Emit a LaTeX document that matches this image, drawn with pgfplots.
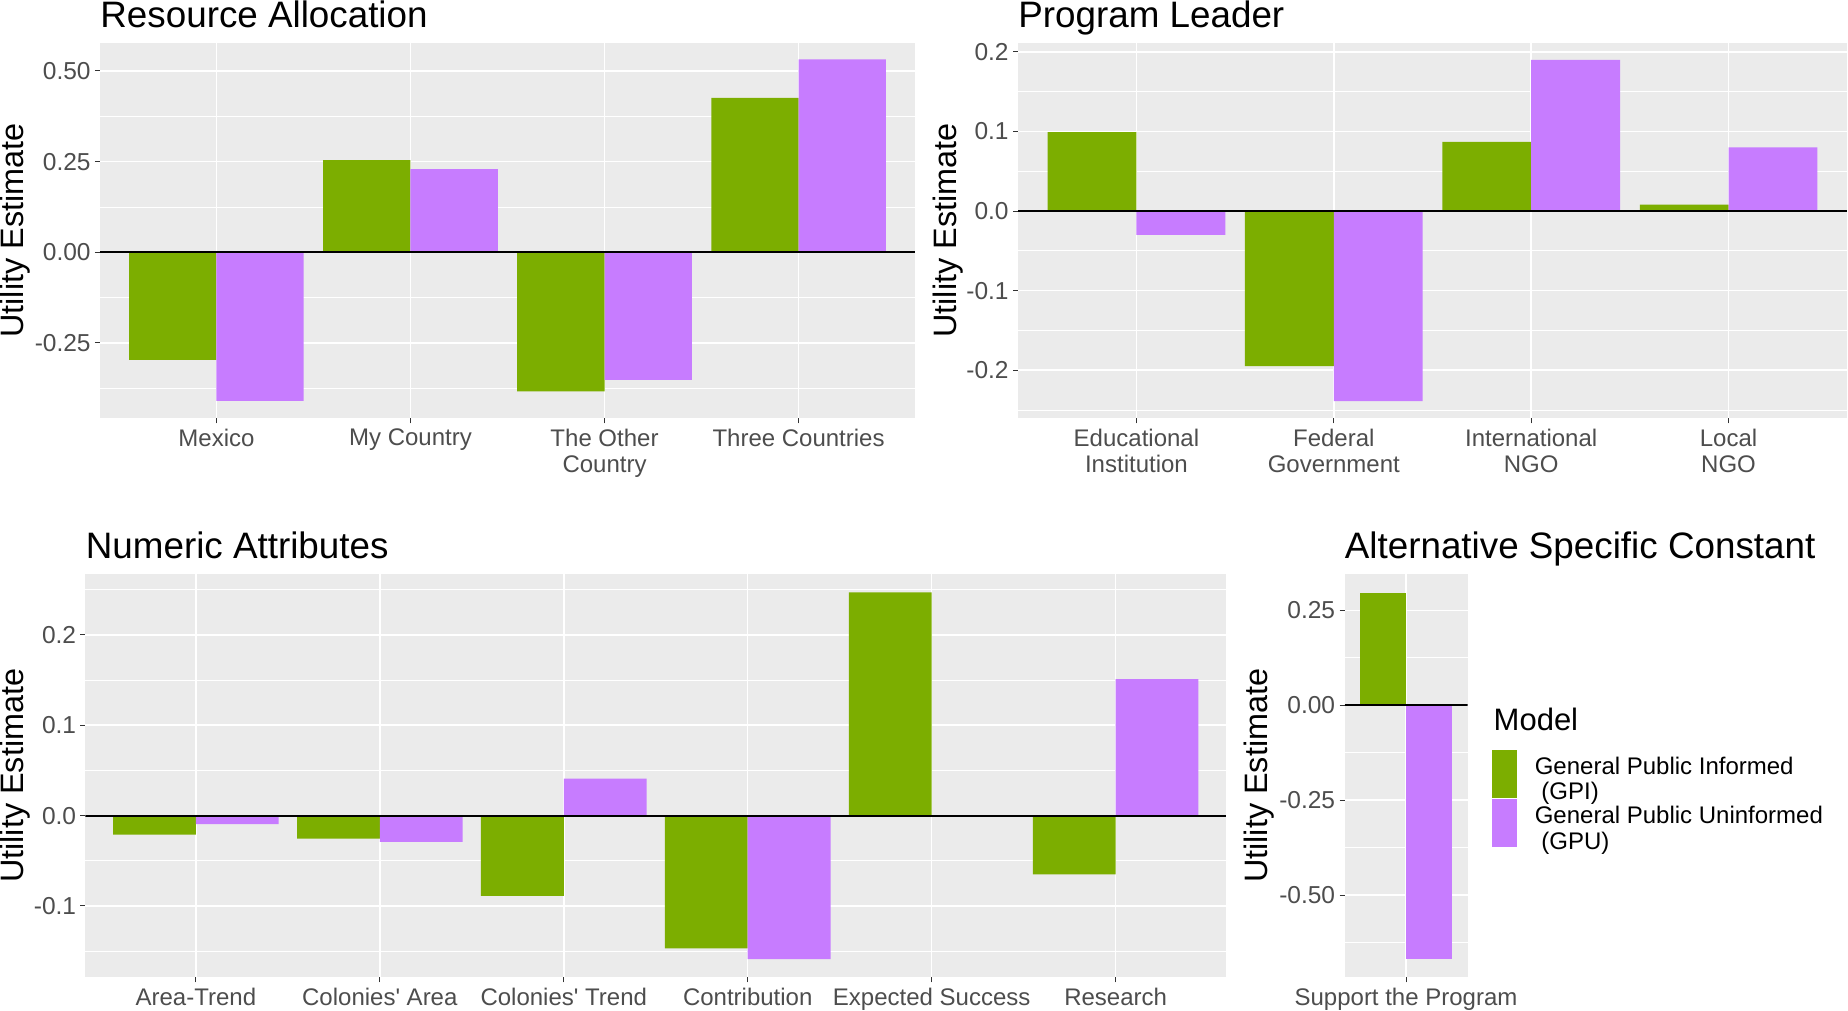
\documentclass[border=0pt]{standalone}
\usepackage{pgfplots}
\pgfplotsset{compat=1.18}
\usepackage{fontspec}
\setmainfont{Liberation Sans}
\definecolor{gpi}{HTML}{7CAE00}
\definecolor{gpu}{HTML}{C77CFF}
\definecolor{panelbg}{HTML}{EBEBEB}
\definecolor{ticklab}{HTML}{4D4D4D}
\definecolor{tickcol}{HTML}{333333}
\pgfplotsset{
  panel/.style={
    scale only axis, anchor=north west,
    axis background/.style={fill=panelbg},
    axis line style={draw=none},
    tick align=outside,
    xtick pos=left, ytick pos=left,
    major tick length=2.5pt,
    minor tick length=0pt,
    tick style={color=tickcol, line width=0.5pt},
    xmajorgrids=true, ymajorgrids=true, yminorgrids=true,
    major grid style={white, line width=0.75pt},
    minor grid style={white, line width=0.4pt},
    yticklabel style={font=\fontsize{12.25}{14}\selectfont, color=ticklab, anchor=east, inner sep=0pt, xshift=-2pt},
    xticklabel style={font=\fontsize{12}{13.2}\selectfont, color=ticklab, anchor=north, inner sep=0pt, align=center, yshift=-2.6pt},
    every axis title shift=0pt,
    title style={font=\fontsize{18.4}{22}\selectfont, at={(axis description cs:0,1)}, anchor=base west, inner sep=0pt, yshift=7.8pt},
    ylabel={Utility Estimate},
    ylabel style={font=\fontsize{16.2}{19}\selectfont, anchor=center, inner sep=0pt},
  },
  gpibar/.style={ybar, bar width=0.45, bar shift=-0.225, fill=gpi, draw=none},
  gpubar/.style={ybar, bar width=0.45, bar shift=0.225, fill=gpu, draw=none},
  myleg/.style={legend image code/.code={\fill[##1] (0pt,-12pt) rectangle (12.5pt,12pt);}},
}
\begin{document}
\begin{tikzpicture}
\path[use as bounding box, fill=white] (0,0) rectangle (924pt,-505.5pt);

% Resource Allocation
\begin{axis}[panel, at={(50pt,-21.35pt)}, width=407.5pt, height=187.8pt,
  title={Resource Allocation},
  ylabel style={at={([xshift=-42.5pt]axis description cs:0,0.5)}},
  xmin=-0.6, xmax=3.6, ymin=-0.458, ymax=0.578,
  xtick={0,1,2,3}, xticklabels={Mexico, My Country, {The Other\\Country}, Three Countries},
  ytick={-0.25,0,0.25,0.5}, yticklabels={-0.25,0.00,0.25,0.50},
  minor ytick={-0.375,-0.125,0.125,0.375}]
\addplot[gpibar] coordinates {(0,-0.297) (1,0.254) (2,-0.384) (3,0.426)};
\addplot[gpubar] coordinates {(0,-0.410) (1,0.229) (2,-0.352) (3,0.532)};
\addplot[black, line width=1pt] coordinates {(-0.6,0) (3.6,0)};
\end{axis}

% Program Leader
\begin{axis}[panel, at={(509pt,-21.35pt)}, width=414.5pt, height=187.8pt,
  title={Program Leader},
  ylabel style={at={([xshift=-35pt]axis description cs:0,0.5)}},
  xmin=-0.6, xmax=3.6, ymin=-0.2605, ymax=0.2115,
  xtick={0,1,2,3}, xticklabels={{Educational\\Institution}, {Federal\\Government}, {International\\NGO}, {Local\\NGO}},
  ytick={-0.2,-0.1,0,0.1,0.2}, yticklabels={-0.2,-0.1,0.0,0.1,0.2},
  minor ytick={-0.25,-0.15,-0.05,0.05,0.15}]
\addplot[gpibar] coordinates {(0,0.099) (1,-0.195) (2,0.087) (3,0.008)};
\addplot[gpubar] coordinates {(0,-0.030) (1,-0.239) (2,0.190) (3,0.080)};
\addplot[black, line width=1pt] coordinates {(-0.6,0) (3.6,0)};
\end{axis}

% Numeric Attributes
\begin{axis}[panel, at={(42.75pt,-287.15pt)}, width=570.25pt, height=201.5pt,
  title={Numeric Attributes},
  ylabel style={at={([xshift=-35pt]axis description cs:0,0.5)}},
  xmin=-0.6, xmax=5.6, ymin=-0.179, ymax=0.267,
  xtick={0,1,2,3,4,5}, xticklabels={Area-Trend, Colonies\textquotesingle\ Area, Colonies\textquotesingle\ Trend, Contribution, Expected Success, Research},
  ytick={-0.1,0,0.1,0.2}, yticklabels={-0.1,0.0,0.1,0.2},
  minor ytick={-0.15,-0.05,0.05,0.15,0.25}]
\addplot[gpibar] coordinates {(0,-0.021) (1,-0.0255) (2,-0.089) (3,-0.147) (4,0.247) (5,-0.065)};
\addplot[gpubar] coordinates {(0,-0.0096) (1,-0.029) (2,0.041) (3,-0.159) (5,0.151)};
\addplot[black, line width=1pt] coordinates {(-0.6,0) (5.6,0)};
\end{axis}

% Alternative Specific Constant
\begin{axis}[panel, myleg, at={(672.25pt,-287.15pt)}, width=61.5pt, height=201.5pt,
  title={Alternative Specific Constant},
  ylabel style={at={([xshift=-42.5pt]axis description cs:0,0.5)}},
  xmin=-0.6, xmax=0.6, ymin=-0.7166, ymax=0.345,
  xtick={0}, xticklabels={Support the Program},
  ytick={-0.5,-0.25,0,0.25}, yticklabels={-0.50,-0.25,0.00,0.25},
  minor ytick={-0.625,-0.375,-0.125,0.125},
  legend style={at={(1.1976,0.5658)}, anchor=north west, draw=none, fill=none, inner sep=0pt,
    row sep=0.8pt, column sep=8.8pt, font=\fontsize{12}{12.6}\selectfont, nodes={inner sep=0pt}},
  legend cell align=left]
\addplot[gpibar] coordinates {(0,0.297)};
\addlegendentry{\begin{tabular}{@{}l@{}}General Public Informed\\\ (GPI)\end{tabular}}
\addplot[gpubar] coordinates {(0,-0.668)};
\addlegendentry{\begin{tabular}{@{}l@{}}General Public Uninformed\\\ (GPU)\end{tabular}}
\addplot[black, line width=1pt, forget plot] coordinates {(-0.6,0) (0.6,0)};
\end{axis}
\node[anchor=base west, inner sep=0pt, font=\fontsize{15.5}{18}\selectfont] at (746.65pt,-365pt) {Model};
\end{tikzpicture}
\end{document}
